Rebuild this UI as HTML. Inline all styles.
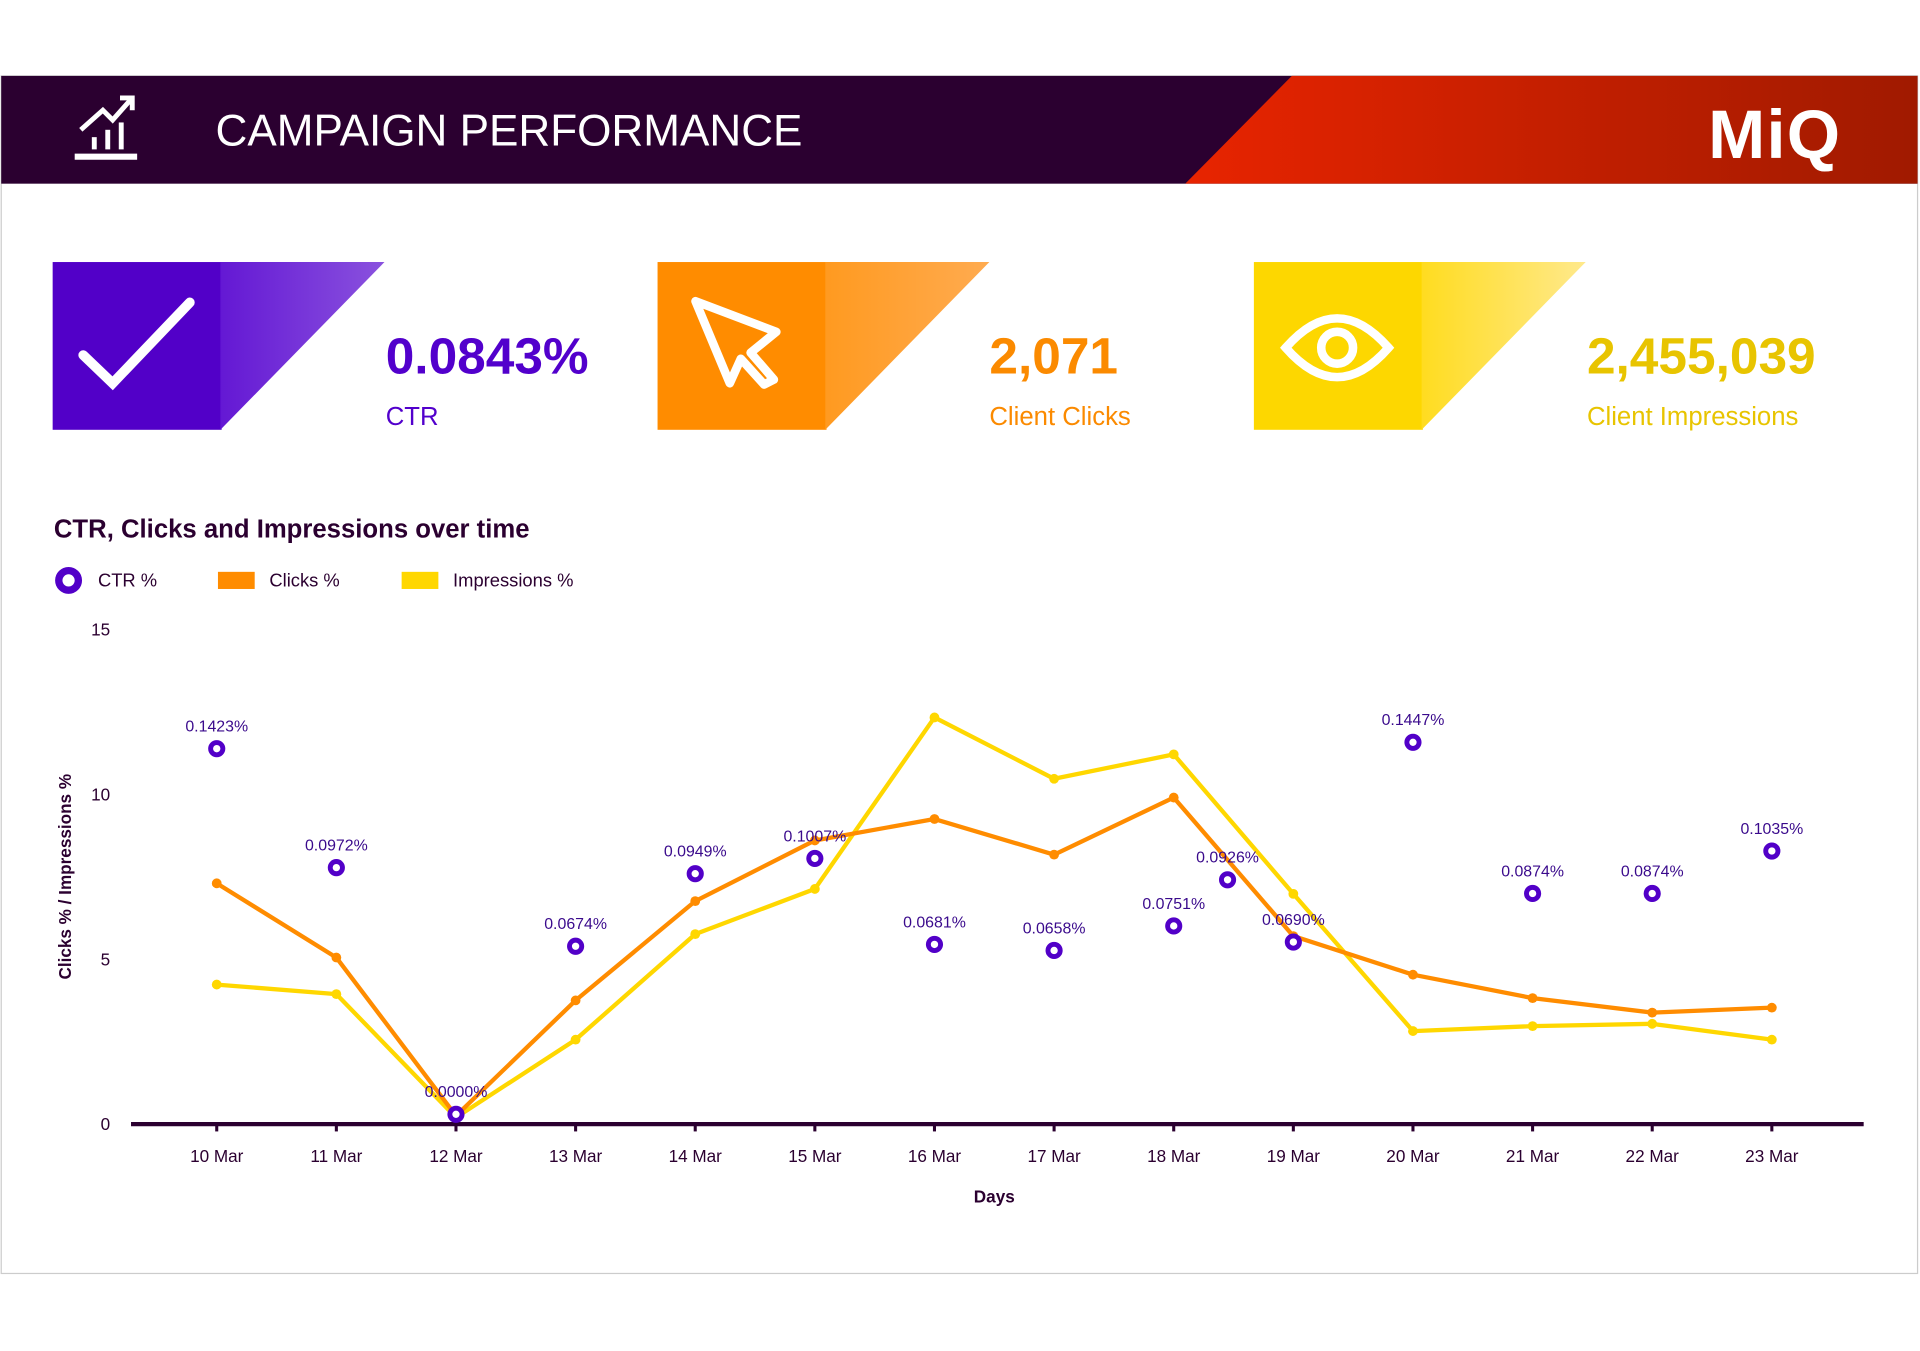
<!DOCTYPE html>
<html><head><meta charset="utf-8">
<style>
html,body{margin:0;padding:0;background:#fff;}
body{width:1920px;height:1350px;overflow:hidden;position:relative;font-family:"Liberation Sans",sans-serif;}
#wrap{position:absolute;left:0;top:0;width:1568px;height:1103px;transform:scale(1.22449);transform-origin:0 0;}
.abs{position:absolute;}
</style></head>
<body>
<div id="wrap">
<svg width="1568" height="1103" class="abs" style="left:0;top:0">
  <defs>
    <linearGradient id="redg" x1="0" x2="1" y1="0" y2="0">
      <stop offset="0" stop-color="#e82400"/><stop offset="1" stop-color="#a01a00"/>
    </linearGradient>
    <linearGradient id="pg" x1="0" x2="1"><stop offset="0" stop-color="#6418d4"/><stop offset="1" stop-color="#8a52de"/></linearGradient>
    <linearGradient id="og" x1="0" x2="1"><stop offset="0" stop-color="#ff9a20"/><stop offset="1" stop-color="#ffab50"/></linearGradient>
    <linearGradient id="yg" x1="0" x2="1"><stop offset="0" stop-color="#ffdc20"/><stop offset="1" stop-color="#ffe98c"/></linearGradient>
  </defs>
  <rect x="1" y="62" width="1565" height="978" fill="none" stroke="#ccc" stroke-width="1"/>
  <g>
    <rect x="1" y="62" width="1565" height="88" fill="#2b0030"/>
    <polygon points="1055,62 1566,62 1566,150 968,150" fill="url(#redg)"/>
  </g>
  <g stroke="#fff" fill="none" stroke-width="4">
    <line x1="61" y1="128" x2="112" y2="128" stroke-width="5"/>
    <line x1="77" y1="122" x2="77" y2="112"/><line x1="88" y1="122" x2="88" y2="106"/><line x1="99" y1="122" x2="99" y2="100"/>
    <polyline points="66,106 84,90 92,98 108,80"/>
    <polyline points="98,80 108,80 108,90"/>
  </g>
  <text x="176" y="119" fill="#fff" font-size="36">CAMPAIGN PERFORMANCE</text>
  <text x="1395" y="129" fill="#fff" font-size="56" font-weight="bold" letter-spacing="1">MiQ</text>

  <g>
    <rect x="43" y="214" width="138" height="137" fill="#5200c8"/>
    <polygon points="180,214 314,214 180,351" fill="url(#pg)"/>
    <polyline points="68,290 92,313 155,247" stroke="#fff" stroke-width="8" fill="none" stroke-linecap="round"/>
  </g>
  <g>
    <rect x="537" y="214" width="138" height="137" fill="#ff8c00"/>
    <polygon points="674,214 808,214 674,351" fill="url(#og)"/>
    <polygon points="568,246 634,271 613,288 632,310 624,314 605,293 596,313" stroke="#fff" stroke-width="7" fill="none" stroke-linejoin="round"/>
  </g>
  <g>
    <rect x="1024" y="214" width="138" height="137" fill="#fdd700"/>
    <polygon points="1161,214 1295,214 1161,351" fill="url(#yg)"/>
    <path d="M1050,284 Q1092,236 1134,284 Q1092,332 1050,284 Z" stroke="#fff" stroke-width="7" fill="none"/>
    <circle cx="1092" cy="284" r="13" stroke="#fff" stroke-width="7" fill="none"/>
  </g>
  <text x="315" y="305" fill="#5200cc" font-size="42" font-weight="bold">0.0843%</text>
  <text x="315" y="347" fill="#5200cc" font-size="21">CTR</text>
  <text x="808" y="305" fill="#fb8a00" font-size="42" font-weight="bold">2,071</text>
  <text x="808" y="347" fill="#fb8a00" font-size="21">Client Clicks</text>
  <text x="1296" y="305" fill="#e8c400" font-size="42" font-weight="bold">2,455,039</text>
  <text x="1296" y="347" fill="#e8c400" font-size="21">Client Impressions</text>

  <text x="44" y="439" fill="#2b0030" font-size="21" font-weight="bold">CTR, Clicks and Impressions over time</text>
  <g>
    <circle cx="56" cy="474" r="8" fill="#fff" stroke="#5200c8" stroke-width="6"/>
    <text x="80" y="479" font-size="15" fill="#2b0030">CTR %</text>
  </g>
  <g>
    <rect x="178" y="467" width="30" height="14" fill="#ff8c00"/>
    <text x="220" y="479" font-size="15" fill="#2b0030">Clicks %</text>
  </g>
  <g>
    <rect x="328" y="467" width="30" height="14" fill="#ffd700"/>
    <text x="370" y="479" font-size="15" fill="#2b0030">Impressions %</text>
  </g>
  <text transform="translate(58,716) rotate(-90)" text-anchor="middle" font-size="14" font-weight="bold" fill="#2b0030">Clicks % / Impressions %</text>
  <text x="812" y="982" text-anchor="middle" font-size="14" font-weight="bold" fill="#2b0030">Days</text>
  <g id="plot"></g>
</svg>
</div>
<script>
const categories = ["10 Mar","11 Mar","12 Mar","13 Mar","14 Mar","15 Mar","16 Mar","17 Mar","18 Mar","19 Mar","20 Mar","21 Mar","22 Mar","23 Mar"];
const clicksPct = [7.3,5.05,0.25,3.75,6.76,8.6,9.25,8.17,9.9,5.7,4.53,3.82,3.38,3.53];
const impressionsPct = [4.23,3.94,0.2,2.56,5.76,7.13,12.33,10.47,11.21,6.98,2.82,2.97,3.04,2.56];
const ctrPositions = [0,1,2,3,4,5,6,7,8,8.45,9,10,11,12,13];
const ctrValues = [0.1423,0.0972,0.0000,0.0674,0.0949,0.1007,0.0681,0.0658,0.0751,0.0926,0.0690,0.1447,0.0874,0.0874,0.1035];
const yTicks = [0,5,10,15];

const NS="http://www.w3.org/2000/svg";
const plot=document.getElementById('plot');
const x0=177, xStep=(1447-177)/13, yBase=918, yUnit=(918-514)/15;
const ctrScale=80; // CTR % -> left-axis units
function xs(i){return x0+i*xStep;}
function ys(v){return yBase-v*yUnit;}
function mk(tag,attrs){const e=document.createElementNS(NS,tag);for(const k in attrs)e.setAttribute(k,attrs[k]);plot.appendChild(e);return e;}

yTicks.forEach(t=>{
  const e=mk('text',{x:90,y:ys(t)+5,'text-anchor':'end','font-size':14,fill:'#2b0030'});
  e.textContent=t;
  
  
});
const ax=mk('line',{x1:107,y1:yBase,x2:1522,y2:yBase,stroke:'#2b0030','stroke-width':3.5});


categories.forEach((c,i)=>{
  const tk=mk('line',{x1:xs(i),y1:yBase,x2:xs(i),y2:yBase+6,stroke:'#2b0030','stroke-width':2.5});
  
  
  const e=mk('text',{x:xs(i),y:949,'text-anchor':'middle','font-size':14,fill:'#2b0030'});
  e.textContent=c;
  
  
});
function series(vals,color,name){
  const pl=mk('polyline',{points:vals.map((v,i)=>xs(i)+','+ys(v)).join(' '),fill:'none',stroke:color,'stroke-width':3.5,'stroke-linejoin':'round'});
  
  
  vals.forEach((v,i)=>{
    const c=mk('circle',{cx:xs(i),cy:ys(v),r:4,fill:color});
    
    
  });
}
series(impressionsPct,'#ffd700','impressions');
series(clicksPct,'#ff8c00','clicks');
ctrValues.forEach((v,i)=>{
  const cx=xs(ctrPositions[i]), cy=ys(v*ctrScale)-(v===0?8:0);
  const c=mk('circle',{cx:cx,cy:cy,r:5,fill:'#fff',stroke:'#5200c8','stroke-width':4});
  
  
  const t=mk('text',{x:cx,y:cy-14,'text-anchor':'middle','font-size':13,fill:'#3a0a8c'});
  t.textContent=v.toFixed(4)+'%';
  
  
});
</script>
</body></html>
